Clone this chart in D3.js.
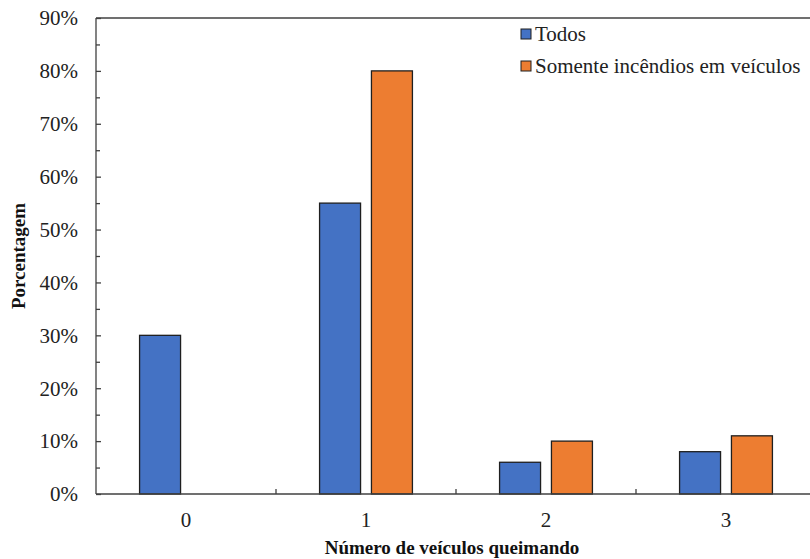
<!DOCTYPE html>
<html><head><meta charset="utf-8">
<script src="https://cdn.jsdelivr.net/npm/d3@7"></script>
<style>body{margin:0;background:#fff}svg{display:block}</style>
</head><body>
<svg id="c" width="810" height="559"></svg>
<script>
const categories = ["0", "1", "2", "3"];
const seriesNames = ["Todos", "Somente incêndios em veículos"];
const todos = [30, 55, 6, 8];
const somente = [0, 80, 10, 11];
const yTicks = [0, 10, 20, 30, 40, 50, 60, 70, 80, 90];
const yMinor = [5, 15, 25, 35, 45, 55, 65, 75, 85];
const colors = ["#4472C4", "#ED7D31"];

const svg = d3.select("#c");
const L = 96, T = 18, R = 816, B = 494;
const font = "'Liberation Serif','Times New Roman',serif";
const axisColor = "#404040";

const x = d3.scaleBand().domain(categories).range([L, R]).paddingInner(0).paddingOuter(0);
const xs = d3.scaleBand().domain(seriesNames).range([0, x.bandwidth()]).paddingInner(0.21).paddingOuter(0.84);
const y = d3.scaleLinear().domain([0, 90]).range([B, T]);

const data = categories.map((c, i) => ({c, vals: [todos[i], somente[i]]}));

// bars
const g = svg.append("g");
data.forEach(d => {
  d.vals.forEach((v, j) => {
    if (v <= 0) return;
    g.append("rect")
      .attr("x", x(d.c) + xs(seriesNames[j]))
      .attr("y", y(v))
      .attr("width", xs.bandwidth())
      .attr("height", y(0) - y(v))
      .attr("fill", colors[j])
      .attr("stroke", "#1f1f1f")
      .attr("stroke-width", 1.3);
  });
});

// top border
svg.append("line").attr("x1", L).attr("x2", R).attr("y1", T).attr("y2", T)
  .attr("stroke", axisColor).attr("stroke-width", 1.3);

// y axis
const yAxis = d3.axisRight(y).tickValues(yTicks).tickSize(5).tickFormat("");
const ya = svg.append("g").attr("transform", `translate(${L},0)`).call(yAxis);
ya.select(".domain").remove();
ya.selectAll("line").attr("stroke", axisColor).attr("stroke-width", 1.3);
const yMinAxis = d3.axisRight(y).tickValues(yMinor).tickSize(4).tickFormat("");
const ym = svg.append("g").attr("transform", `translate(${L},0)`).call(yMinAxis);
ym.select(".domain").remove();
ym.selectAll("line").attr("stroke", axisColor).attr("stroke-width", 1.3);
svg.append("line").attr("x1", L).attr("x2", L).attr("y1", T).attr("y2", B)
  .attr("stroke", axisColor).attr("stroke-width", 1.3);

// y labels
svg.append("g").selectAll("text").data(yTicks).join("text")
  .attr("x", L - 18).attr("y", d => y(d)).attr("dy", "0.35em")
  .attr("text-anchor", "end").attr("font-family", font).attr("font-size", 21)
  .attr("fill", "#222").text(d => d + "%");

// x axis
svg.append("line").attr("x1", L).attr("x2", R).attr("y1", B).attr("y2", B)
  .attr("stroke", axisColor).attr("stroke-width", 1.3);
const bounds = categories.slice(1).map(c => x(c));
svg.append("g").selectAll("line").data(bounds).join("line")
  .attr("x1", d => d).attr("x2", d => d).attr("y1", B).attr("y2", B - 5)
  .attr("stroke", axisColor).attr("stroke-width", 1.3);
svg.append("g").selectAll("text").data(categories).join("text")
  .attr("x", d => x(d) + x.bandwidth() / 2).attr("y", 527)
  .attr("text-anchor", "middle").attr("font-family", font).attr("font-size", 21)
  .attr("fill", "#222").text(d => d);

// axis titles
svg.append("text").attr("x", (L + R) / 2 - 4).attr("y", 554)
  .attr("text-anchor", "middle").attr("font-family", font).attr("font-size", 19)
  .attr("font-weight", "bold").attr("fill", "#111").text("Número de veículos queimando");
svg.append("text").attr("transform", `translate(25,${(T + B) / 2}) rotate(-90)`)
  .attr("text-anchor", "middle").attr("font-family", font).attr("font-size", 19)
  .attr("font-weight", "bold").attr("fill", "#111").text("Porcentagem");

// legend
const lg = svg.append("g");
seriesNames.forEach((s, i) => {
  const yy = 34 + i * 32;
  lg.append("rect").attr("x", 521).attr("y", yy - 5).attr("width", 10).attr("height", 10)
    .attr("fill", colors[i]).attr("stroke", "#1f1f1f").attr("stroke-width", 1);
  lg.append("text").attr("x", 535).attr("y", yy + 7).attr("font-family", font)
    .attr("font-size", 21).attr("fill", "#222").text(s);
});
</script>
</body></html>
